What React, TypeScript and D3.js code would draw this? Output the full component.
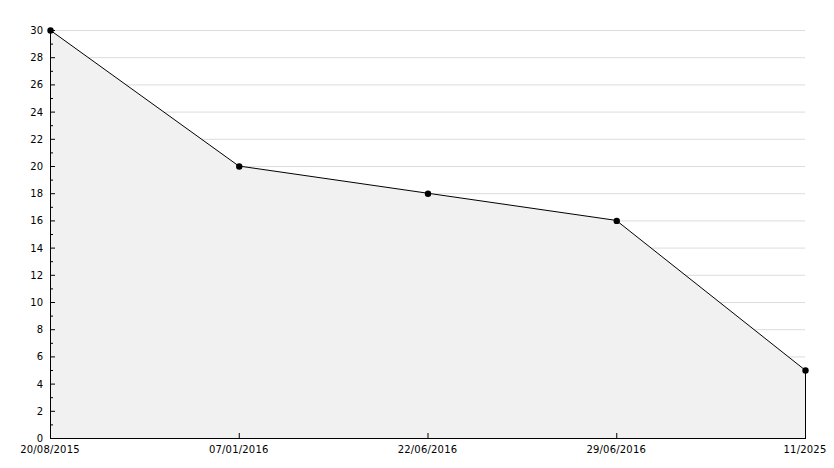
import React from "react";
import * as d3 from "d3";

const categories = ["20/08/2015", "07/01/2016", "22/06/2016", "29/06/2016", "11/2025"];
const values = [30, 20, 18, 16, 5];
const yMajorTicks = d3.range(0, 31, 2);
const yMinorTicks = d3.range(1, 30, 2);

const W = 834;
const H = 468;
const left = 50;
const right = 805;
const top = 30;
const bottom = 438;

export default function App() {
  const x = d3.scalePoint<string>().domain(categories).range([left, right]);
  const y = d3.scaleLinear().domain([0, 30]).range([bottom, top]);
  const pts = categories.map((c, i) => [x(c) as number, y(values[i])] as [number, number]);
  const area = d3
    .area<[number, number]>()
    .x((d) => d[0])
    .y0(bottom)
    .y1((d) => d[1]);
  const line = d3.line<[number, number]>().x((d) => d[0]).y((d) => d[1]);
  const font = "DejaVu Sans, Verdana, sans-serif";
  return (
    <svg
      width={W}
      height={H}
      style={{ position: "absolute", left: 0, top: 0, background: "#fff" }}
      fontFamily={font}
      fontSize={10}
    >
      {yMajorTicks.filter((t) => t > 0).map((t) => (
        <line key={"g" + t} x1={left} x2={right} y1={y(t) + 0.5} y2={y(t) + 0.5} stroke="#dcdcdc" strokeWidth={1} />
      ))}
      <path d={area(pts) || ""} fill="#f1f1f1" stroke="none" />
      <path d={line(pts) || ""} fill="none" stroke="#000" strokeWidth={1} />
      <line x1={right + 0.5} x2={right + 0.5} y1={pts[pts.length - 1][1]} y2={bottom} stroke="#000" strokeWidth={1} />
      <line x1={left + 0.5} x2={left + 0.5} y1={top} y2={bottom + 0.5} stroke="#000" strokeWidth={1} />
      <line x1={left} x2={right + 1} y1={bottom + 0.5} y2={bottom + 0.5} stroke="#000" strokeWidth={1} />
      {yMajorTicks.map((t) => (
        <g key={"t" + t}>
          <line x1={left} x2={left + 5} y1={y(t) + 0.5} y2={y(t) + 0.5} stroke="#000" />
          <text x={43} y={y(t) + 4} textAnchor="end" fill="#000">{t}</text>
        </g>
      ))}
      {yMinorTicks.map((t) => (
        <line key={"m" + t} x1={left} x2={left + 3} y1={y(t) + 0.5} y2={y(t) + 0.5} stroke="#000" />
      ))}
      {categories.map((c, i) => (
        <g key={"x" + c}>
          {i > 0 && i < categories.length - 1 && (
            <line x1={(x(c) as number) + 0.5} x2={(x(c) as number) + 0.5} y1={bottom - 5} y2={bottom} stroke="#000" />
          )}
          <text x={x(c) as number} y={bottom + 15} textAnchor="middle" fill="#000" style={{ letterSpacing: "0.2px" }}>{c}</text>
        </g>
      ))}
      {pts.map((p, i) => (
        <circle key={"p" + i} cx={p[0] + 0.5} cy={p[1] + 0.5} r={3.2} fill="#000" />
      ))}
    </svg>
  );
}
